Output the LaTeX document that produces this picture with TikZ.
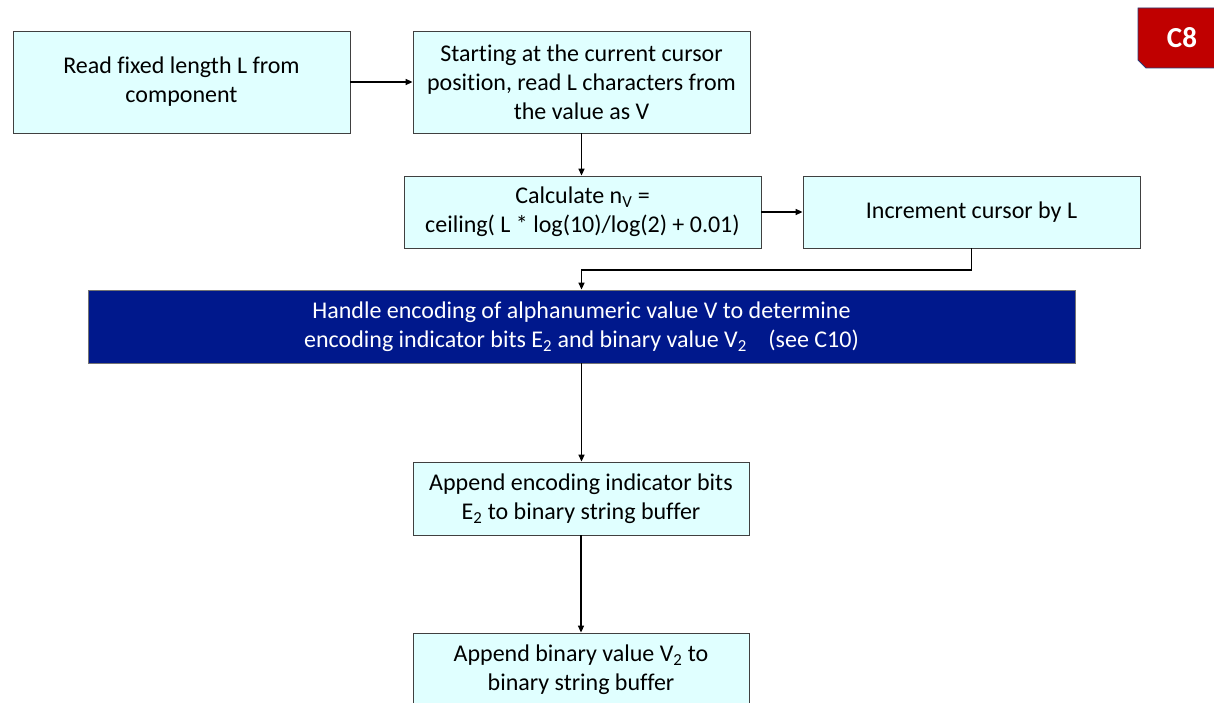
\documentclass[tikz,border=0pt]{standalone}
\usepackage{fontspec}
\setmainfont{Carlito}[Ligatures=NoCommon]
\usetikzlibrary{arrows.meta}
\definecolor{boxfill}{RGB}{224,255,255}
\definecolor{navyfill}{RGB}{0,24,140}
\definecolor{badgered}{RGB}{192,0,0}
\definecolor{badgeedge}{RGB}{40,60,120}
\tikzset{
  procbox/.style={draw=black!75, line width=0.8pt, fill=boxfill, align=center,
    font=\fontsize{24}{29}\selectfont, inner sep=0pt},
  navybox/.style={draw=black!55, line width=0.8pt, fill=navyfill, text=white, align=center,
    font=\fontsize{24}{29}\selectfont, inner sep=0pt},
  arr/.style={line width=1.4pt, -{Triangle[length=7pt,width=6pt]}},
}
\begin{document}
\begin{tikzpicture}[x=1pt,y=-1pt]
\clip (0,0) rectangle (1214,703);
\fill[white] (0,0) rectangle (1214,703);
% badge
\filldraw[fill=badgered, draw=badgeedge, line width=0.8pt]
  (1218,8) -- (1138,8) -- (1138,60) -- (1146,68) -- (1218,68) -- cycle;
\node[text=white, font=\fontsize{29}{30}\selectfont\bfseries] (badge) at (1182,38) {C8};
% boxes
\node[procbox, minimum width=337pt, minimum height=102pt] (A) at (181.5,82)
  {Read fixed length L from\\component};
\node[procbox, minimum width=337pt, minimum height=102pt] (B) at (581.5,82)
  {Starting at the current cursor\\position, read L characters from\\the value as V};
\node[procbox, minimum width=357pt, minimum height=72pt] (C) at (582.5,212)
  {Calculate n\textsubscript{V} =\\ceiling( L * log(10)/log(2) + 0.01)};
\node[procbox, minimum width=337pt, minimum height=72pt] (D) at (971.5,212)
  {Increment cursor by L};
\node[navybox, minimum width=987pt, minimum height=73pt] (E) at (581.5,326.5)
  {Handle encoding of alphanumeric value V to determine\\encoding indicator bits E\textsubscript{2} and binary value V\textsubscript{2}\hspace{0.9em}(see C10)};
\node[procbox, minimum width=336pt, minimum height=73pt] (F) at (581,498.5)
  {Append encoding indicator bits\\E\textsubscript{2} to binary string buffer};
\node[procbox, minimum width=336pt, minimum height=73pt] (G) at (581,669.5)
  {Append binary value V\textsubscript{2} to\\binary string buffer};
% connectors
\coordinate (J) at (581.5,270);
\draw[arr] (A.east) -- (B.west);
\draw[arr] (B.south) -- (B.south |- C.north);
\draw[arr] (C.east) -- (D.west);
\draw[arr] (D.south) |- (J) -- (E.north);
\draw[arr] (E.south) -- (E.south |- F.north);
\draw[arr] (F.south) -- (G.north);
\end{tikzpicture}
\end{document}
